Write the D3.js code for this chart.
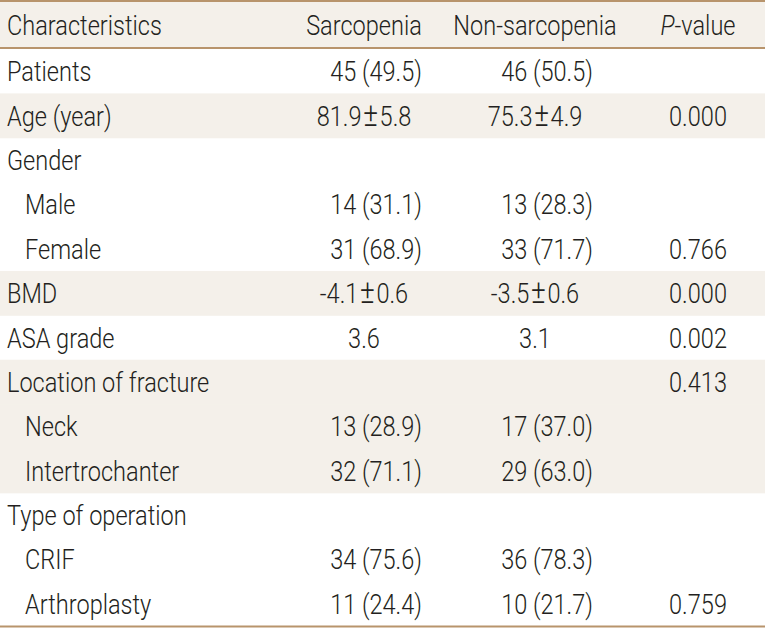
<!DOCTYPE html>
<html>
<head>
<meta charset="utf-8">
<script src="https://cdn.jsdelivr.net/npm/d3@7"></script>
<style>
  html, body { margin: 0; padding: 0; background: #ffffff; }
  svg { display: block; }
</style>
</head>
<body>
<svg id="chart" width="765" height="628"></svg>
<script>
// ---- data ----
const headers = ["Characteristics", "Sarcopenia", "Non-sarcopenia", "P-value"];
const characteristics = ["Patients", "Age (year)", "Gender", "Male", "Female", "BMD", "ASA grade",
  "Location of fracture", "Neck", "Intertrochanter", "Type of operation", "CRIF", "Arthroplasty"];
const subRow = [false, false, false, true, true, false, false, false, true, true, false, true, true];
const sarcopenia = ["45 (49.5)", "81.9\u00B15.8", "", "14 (31.1)", "31 (68.9)", "-4.1\u00B10.6", "3.6",
  "", "13 (28.9)", "32 (71.1)", "", "34 (75.6)", "11 (24.4)"];
const nonSarcopenia = ["46 (50.5)", "75.3\u00B14.9", "", "13 (28.3)", "33 (71.7)", "-3.5\u00B10.6", "3.1",
  "", "17 (37.0)", "29 (63.0)", "", "36 (78.3)", "10 (21.7)"];
const pValues = ["", "0.000", "", "", "0.766", "0.000", "0.002", "0.413", "", "", "", "", "0.759"];
const shaded = [false, true, false, false, false, true, false, true, true, true, false, false, false];

// ---- layout ----
const W = 765, H = 628;
const FONT = "Roboto, 'Liberation Sans', sans-serif";
const fontSize = 28;
const fontWeight = 300;
const textColor = "#231f20";
const bandColor = "#f4f0ea";
const ruleColor = "#b8946c";

const svg = d3.select("#chart");

const y = d3.scaleBand().domain(d3.range(characteristics.length)).range([49, 626]).paddingInner(0).paddingOuter(0);
const headerTop = 2, headerBottom = 48;

const colCentre = { sarc: 364, non: 535, p: 698 };
const nPctOffset = 58; // n (%) cells right aligned at centre + offset

// header band
svg.append("rect").attr("x", 0).attr("y", headerTop).attr("width", W).attr("height", headerBottom - headerTop)
  .attr("fill", bandColor);

// row bands
svg.selectAll("rect.band").data(d3.range(characteristics.length).filter(i => shaded[i]))
  .join("rect").attr("class", "band")
  .attr("x", 0).attr("y", i => y(i)).attr("width", W).attr("height", y.bandwidth() + 0.5)
  .attr("fill", bandColor);

// rules
const rules = [1, headerBottom, 626.5];
svg.selectAll("line.rule").data(rules).join("line").attr("class", "rule")
  .attr("x1", 0).attr("x2", W).attr("y1", d => d).attr("y2", d => d)
  .attr("stroke", ruleColor).attr("stroke-width", 2);

// measure scale factor to match condensed reference font
const probe = svg.append("text").attr("font-family", FONT).attr("font-size", fontSize)
  .attr("font-weight", fontWeight).text("Characteristics");
const measured = probe.node().getComputedTextLength();
probe.remove();
const k = measured > 0 ? 155 / measured : 1;

function addText(x, yy, str, anchor, italicPrefix) {
  const g = svg.append("g").attr("transform", `translate(${x},${yy}) scale(${k},1)`);
  const t = g.append("text").attr("font-family", FONT).attr("font-size", fontSize)
    .attr("font-weight", fontWeight).attr("fill", textColor).attr("text-anchor", anchor);
  if (italicPrefix) {
    t.append("tspan").attr("font-style", "italic").text(italicPrefix);
    t.append("tspan").text(str);
  } else if (str.includes("\u00B1")) {
    const [a, b] = str.split("\u00B1");
    t.append("tspan").text(a);
    t.append("tspan").attr("dx", 2).attr("font-size", fontSize * 1.18).text("\u00B1");
    t.append("tspan").attr("dx", 2).text(b);
  } else {
    t.text(str);
  }
  return t;
}

const capOffset = 10; // baseline below row centre

// header
const hy = (headerTop + headerBottom) / 2 + capOffset;
addText(7, hy, headers[0], "start");
addText(colCentre.sarc, hy, headers[1], "middle");
addText(colCentre.non, hy, headers[2], "middle");
addText(colCentre.p, hy, "-value", "middle", "P");

// rows
characteristics.forEach((c, i) => {
  const ry = y(i) + y.bandwidth() / 2 + capOffset;
  addText(subRow[i] ? 25 : 7, ry, c, "start");
  [["sarc", sarcopenia[i]], ["non", nonSarcopenia[i]], ["p", pValues[i]]].forEach(([col, v]) => {
    if (!v) return;
    const isNPct = /\(/.test(v);
    if (isNPct) addText(colCentre[col] + nPctOffset, ry, v, "end");
    else addText(colCentre[col], ry, v, "middle");
  });
});
</script>
</body>
</html>
